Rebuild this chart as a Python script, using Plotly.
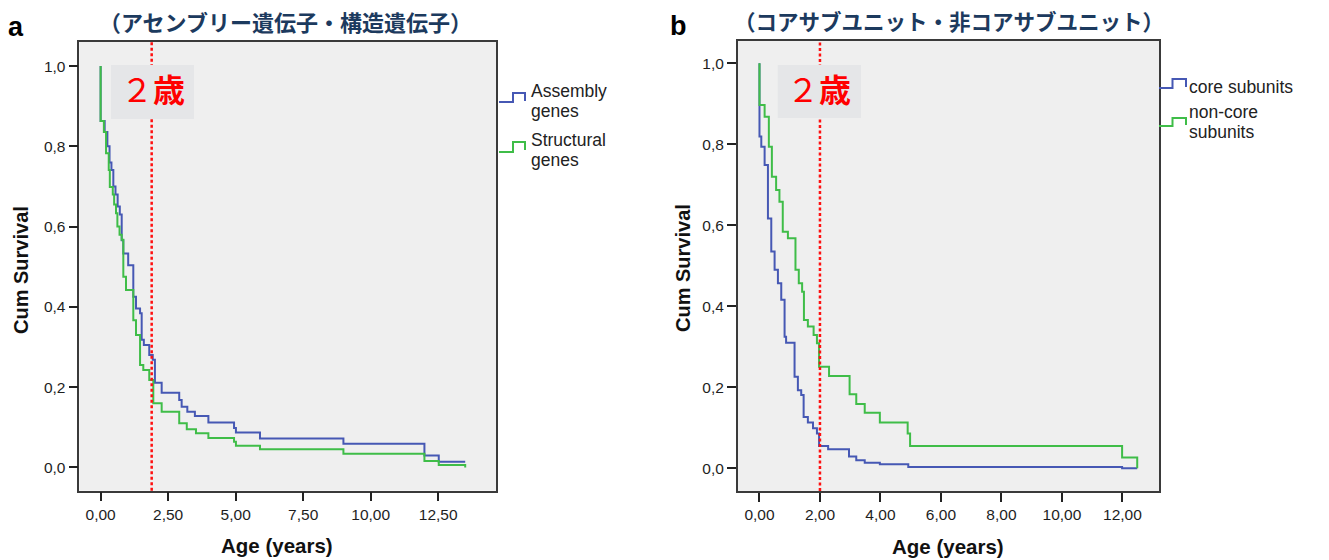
import plotly.graph_objects as go

W, H = 1329, 560

# ---------------- data ----------------
# panel a: Assembly genes
asm_t = [0.00, 0.00, 0.15, 0.25, 0.33, 0.40, 0.47, 0.55, 0.63, 0.71, 0.78, 0.84, 1.02, 1.21, 1.31,
         1.46, 1.52, 1.60, 1.80, 1.93, 2.01, 2.26, 2.91, 3.00, 3.21, 3.49, 3.99, 4.94, 5.01, 5.90,
         8.99, 11.99, 12.52, 13.50]
asm_s = [1.000, 0.863, 0.836, 0.800, 0.760, 0.741, 0.700, 0.680, 0.650, 0.630, 0.566, 0.533, 0.504, 0.425, 0.396,
         0.384, 0.318, 0.305, 0.280, 0.268, 0.211, 0.186, 0.168, 0.151, 0.139, 0.128, 0.112, 0.098, 0.087, 0.072,
         0.059, 0.030, 0.014, 0.014]
# panel a: Structural genes
str_t = [0.00, 0.00, 0.12, 0.20, 0.30, 0.34, 0.45, 0.50, 0.57, 0.62, 0.70, 0.78, 0.84, 0.94, 1.21,
         1.31, 1.46, 1.58, 1.80, 1.95, 2.26, 2.91, 3.19, 3.53, 3.99, 4.94, 5.01, 5.90, 8.99, 11.99,
         12.52, 13.50, 13.50]
str_s = [1.000, 0.863, 0.836, 0.783, 0.741, 0.699, 0.680, 0.655, 0.633, 0.600, 0.580, 0.567, 0.475, 0.442, 0.367,
         0.330, 0.255, 0.243, 0.218, 0.160, 0.139, 0.110, 0.095, 0.085, 0.073, 0.064, 0.054, 0.045, 0.034, 0.016,
         0.006, 0.006, 0.000]
# panel b: core subunits
core_t = [0.00, 0.00, 0.06, 0.17, 0.28, 0.39, 0.50, 0.61, 0.72, 0.83, 0.88, 1.16, 1.27, 1.38, 1.46,
          1.60, 1.77, 1.90, 1.97, 2.27, 2.96, 3.20, 3.48, 3.98, 4.92, 11.99, 12.49]
core_s = [1.000, 0.819, 0.794, 0.749, 0.617, 0.535, 0.490, 0.457, 0.416, 0.325, 0.310, 0.226, 0.193, 0.181, 0.127,
          0.113, 0.099, 0.086, 0.055, 0.047, 0.029, 0.020, 0.014, 0.010, 0.003, 0.000, 0.000]
# panel b: non-core subunits
nonc_t = [0.00, 0.00, 0.17, 0.31, 0.41, 0.55, 0.66, 0.77, 0.94, 1.19, 1.30, 1.41, 1.47, 1.60, 1.79,
          1.90, 1.97, 2.30, 2.98, 3.20, 3.48, 3.98, 4.90, 4.98, 11.99, 12.49, 12.49]
nonc_s = [1.000, 0.897, 0.868, 0.794, 0.720, 0.687, 0.658, 0.584, 0.568, 0.490, 0.457, 0.436, 0.366, 0.350, 0.329,
          0.309, 0.251, 0.228, 0.183, 0.159, 0.137, 0.113, 0.086, 0.055, 0.027, 0.027, 0.000]

y_ticks = [0.0, 0.2, 0.4, 0.6, 0.8, 1.0]
y_ticktext = ["0,0", "0,2", "0,4", "0,6", "0,8", "1,0"]
xa_ticks = [0, 2.5, 5, 7.5, 10, 12.5]
xa_ticktext = ["0,00", "2,50", "5,00", "7,50", "10,00", "12,50"]
xb_ticks = [0, 2, 4, 6, 8, 10, 12]
xb_ticktext = ["0,00", "2,00", "4,00", "6,00", "8,00", "10,00", "12,00"]

mark_a = 1.89   # red dotted "2 years" marker (panel a)
mark_b = 2.00   # panel b

title_a = "（アセンブリー遺伝子・構造遺伝子）"
title_b = "（コアサブユニット・非コアサブユニット）"
legend_a = [["Assembly", "genes"], ["Structural", "genes"]]
legend_b = [["core subunits"], ["non-core", "subunits"]]

BLUE = "#4658b4"
GREEN = "#3fbd48"
NAVY = "#1c3a5e"
LATIN = "Liberation Sans, Arial, sans-serif"
CJK = "Noto Sans CJK JP, sans-serif"


def px(x):
    return x / W


def py(y):
    return 1 - y / H


fig = go.Figure()
fig.add_trace(go.Scatter(x=asm_t, y=asm_s, mode="lines", line=dict(color=BLUE, width=2, shape="hv"),
                         xaxis="x", yaxis="y", name="Assembly genes", showlegend=False))
fig.add_trace(go.Scatter(x=str_t, y=str_s, mode="lines", line=dict(color=GREEN, width=2, shape="hv"),
                         xaxis="x", yaxis="y", name="Structural genes", showlegend=False))
fig.add_trace(go.Scatter(x=core_t, y=core_s, mode="lines", line=dict(color=BLUE, width=2, shape="hv"),
                         xaxis="x2", yaxis="y2", name="core subunits", showlegend=False))
fig.add_trace(go.Scatter(x=nonc_t, y=nonc_s, mode="lines", line=dict(color=GREEN, width=2, shape="hv"),
                         xaxis="x2", yaxis="y2", name="non-core subunits", showlegend=False))

tickfont = dict(family=LATIN, size=15.5, color="#1e1e1e")
axis_common = dict(showgrid=False, zeroline=False, showline=True, mirror=True, linecolor="#3a3a3a",
                   linewidth=1.5, ticks="outside", ticklen=9, tickwidth=1.8, tickcolor="#222",
                   tickfont=tickfont)

fig.update_layout(
    width=W, height=H, autosize=False,
    margin=dict(l=0, r=0, t=0, b=0),
    paper_bgcolor="white", plot_bgcolor="#efefef",
    xaxis=dict(domain=[px(79.3), px(496)], range=[-0.79, 14.64], tickvals=xa_ticks,
               ticktext=xa_ticktext, anchor="y", **axis_common),
    yaxis=dict(domain=[py(490.7), py(42)], range=[-0.058, 1.06], tickvals=y_ticks,
               ticktext=y_ticktext, anchor="x", **axis_common),
    xaxis2=dict(domain=[px(737.7), px(1159)], range=[-0.72, 13.21], tickvals=xb_ticks,
                ticktext=xb_ticktext, anchor="y2", **axis_common),
    yaxis2=dict(domain=[py(491), py(41)], range=[-0.056, 1.055], tickvals=y_ticks,
                ticktext=y_ticktext, anchor="x2", **axis_common),
)

shapes = []
# red dotted marker lines
shapes.append(dict(type="line", xref="x", yref="y domain", x0=mark_a, x1=mark_a, y0=0, y1=1,
                   line=dict(color="#ff1010", width=2.5, dash="3px,2.5px"), layer="above"))
shapes.append(dict(type="line", xref="x2", yref="y2 domain", x0=mark_b, x1=mark_b, y0=0, y1=1,
                   line=dict(color="#ff1010", width=2.5, dash="3px,2.5px"), layer="above"))
# grey label boxes
for (x0, y0, x1, y1) in [(111, 65, 194, 119), (777.7, 65, 861, 118)]:
    shapes.append(dict(type="rect", xref="paper", yref="paper", x0=px(x0), x1=px(x1),
                       y0=py(y1), y1=py(y0), fillcolor="#e5e6e8", line=dict(width=0), layer="above"))


def step_icon(x0, xs, x1, ylow, yhigh, yend, color):
    path = (f"M {px(x0)},{py(ylow)} L {px(xs)},{py(ylow)} L {px(xs)},{py(yhigh)} "
            f"L {px(x1)},{py(yhigh)} L {px(x1)},{py(yend)}")
    return dict(type="path", xref="paper", yref="paper", path=path,
                line=dict(color=color, width=2), layer="above")


shapes.append(step_icon(499, 513, 525, 102, 93, 101, BLUE))
shapes.append(step_icon(499, 513, 525, 152, 142, 150, GREEN))
shapes.append(step_icon(1159, 1172.5, 1186, 88, 79, 87, BLUE))
shapes.append(step_icon(1159, 1172.5, 1186, 126, 118, 125, GREEN))
fig.update_layout(shapes=shapes)

ann = []


def text(x, y, s, size, color="#111", family=LATIN, xanchor="center", textangle=0):
    ann.append(dict(x=px(x), y=py(y), xref="paper", yref="paper", text=s, showarrow=False,
                    xanchor=xanchor, yanchor="middle", textangle=textangle,
                    font=dict(family=family, size=size, color=color)))


# panel letters
text(16, 27, "<b>a</b>", 27, "#000")
text(679, 26, "<b>b</b>", 27, "#000")
# titles
text(285.5, 21, "<b>" + title_a + "</b>", 22, NAVY, CJK)
text(949, 21, "<b>" + title_b + "</b>", 21.5, NAVY, CJK)
# 2-year labels
text(153, 88, "２<b>歳</b>", 32, "#ff0000", CJK)
text(819, 88, "２<b>歳</b>", 32, "#ff0000", CJK)
# axis titles
text(21, 270, "<b>Cum Survival</b>", 20, "#111", textangle=-90)
text(683, 268, "<b>Cum Survival</b>", 20, "#111", textangle=-90)
text(277, 545, "<b>Age (years)</b>", 20.5, "#111")
text(948, 546, "<b>Age (years)</b>", 20.5, "#111")
# legends
LS = 17.5
text(529, 91, legend_a[0][0], LS, "#222", xanchor="left")
text(529, 111, legend_a[0][1], LS, "#222", xanchor="left")
text(529, 140, legend_a[1][0], LS, "#222", xanchor="left")
text(529, 160, legend_a[1][1], LS, "#222", xanchor="left")
text(1187, 87, legend_b[0][0], LS, "#222", xanchor="left")
text(1187, 112, legend_b[1][0], LS, "#222", xanchor="left")
text(1187, 132, legend_b[1][1], LS, "#222", xanchor="left")

fig.update_layout(annotations=ann)
fig.write_html("out.html", config={"displayModeBar": False},
               post_script="document.body.style.margin='0';document.body.style.padding='0';")
